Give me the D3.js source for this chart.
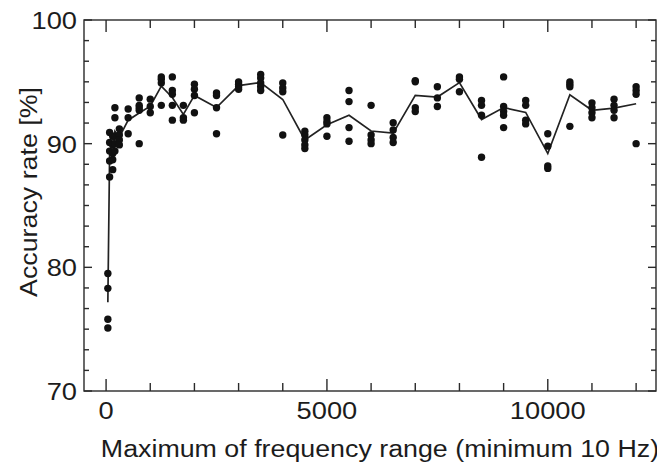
<!DOCTYPE html>
<html>
<head>
<meta charset="utf-8">
<script src="https://cdn.jsdelivr.net/npm/d3@7"></script>
<style>
  body { margin: 0; background: #fff; }
  text { font-family: "Liberation Sans", Arial, sans-serif; fill: #1c1c1c; }
</style>
</head>
<body>
<div id="root"></div>
<script>
// maximum of frequency range (Hz), one group of runs for each
const freqs = [40, 80, 150, 200, 300, 500, 750, 1000, 1250, 1500, 1750, 2000, 2500,
  3000, 3500, 4000, 4500, 5000, 5500, 6000, 6500, 7000, 7500, 8000, 8500, 9000,
  9500, 10000, 10500, 11000, 11500, 12000];

// accuracy rate (%) of each run, same order as freqs
const accuracy = [
  [79.5, 78.3, 75.8, 75.1],
  [90.9, 90.1, 89.4, 88.6, 87.3],
  [90.6, 89.9, 89.2, 88.7, 87.9],
  [92.9, 92.1, 90.6, 90.0, 89.4],
  [91.2, 90.7, 90.3, 89.9],
  [92.8, 92.1, 90.8],
  [93.7, 93.1, 92.9, 92.7, 90.0],
  [93.6, 93.0, 92.5],
  [95.4, 95.2, 94.9, 93.1],
  [95.4, 94.3, 94.0, 93.1, 91.9],
  [93.1, 92.1, 91.9],
  [94.8, 94.4, 93.9, 92.5],
  [94.1, 93.9, 92.9, 90.8],
  [95.0, 94.8, 94.6, 94.4],
  [95.6, 95.3, 94.9, 94.6, 94.3],
  [94.9, 94.5, 94.2, 90.7],
  [91.0, 90.7, 90.3, 89.9, 89.6],
  [92.1, 91.8, 91.6, 90.6],
  [94.3, 93.4, 91.3, 90.2],
  [93.1, 90.7, 90.3, 90.0],
  [91.7, 91.1, 90.5, 90.1],
  [95.1, 95.0, 92.9, 92.6],
  [94.6, 93.7, 93.0],
  [95.4, 95.2, 94.2],
  [93.5, 93.1, 92.3, 88.9],
  [95.4, 93.0, 92.6, 92.3, 91.3],
  [93.5, 93.1, 91.9, 91.6],
  [90.8, 89.8, 88.2, 88.0],
  [95.0, 94.8, 94.6, 91.4],
  [93.3, 92.9, 92.5, 92.1],
  [93.6, 93.1, 92.7, 92.1],
  [94.6, 94.3, 94.0, 90.0]
];

const xTicks = [0, 5000, 10000];
const xMinorTicks = d3.range(0, 12001, 1000);
const yTicks = [70, 80, 90, 100];
const yMinorTicks = d3.range(0, 19).map((i) => 70 + (i * 10) / 6);

const xTitle = "Maximum of frequency range (minimum 10 Hz)";
const yTitle = "Accuracy rate [%]";

const width = 657;
const height = 464;
const margin = { left: 84, right: 1, top: 20, bottom: 73 };

const xScale = d3
  .scaleLinear()
  .domain([-500, 12450])
  .range([margin.left, width - margin.right]);

const yScale = d3
  .scaleLinear()
  .domain([70, 100])
  .range([height - margin.bottom, margin.top]);

const svg = d3
  .select("#root")
  .append("svg")
  .attr("width", width)
  .attr("height", height);

// the font in the picture runs wider than Helvetica, so stretch each label a bit
const stretch = (sel, k) =>
  sel.each(function () {
    const w = this.getComputedTextLength();
    d3.select(this)
      .attr("textLength", w * k)
      .attr("lengthAdjust", "spacingAndGlyphs");
  });

const x0 = xScale.range()[0];
const x1 = xScale.range()[1];
const y0 = yScale.range()[0];
const y1 = yScale.range()[1];

// ticks point inwards on all four sides
const axes = svg.append("g").attr("stroke", "#2a2a2a").attr("stroke-width", 1.4);

const bigX = (d) => xTicks.includes(d);
axes
  .selectAll(".xb")
  .data(xMinorTicks)
  .enter()
  .append("line")
  .attr("x1", (d) => xScale(d))
  .attr("x2", (d) => xScale(d))
  .attr("y1", y0)
  .attr("y2", (d) => y0 - (bigX(d) ? 12 : 8));
axes
  .selectAll(".xt")
  .data(xMinorTicks)
  .enter()
  .append("line")
  .attr("x1", (d) => xScale(d))
  .attr("x2", (d) => xScale(d))
  .attr("y1", y1)
  .attr("y2", (d) => y1 + (bigX(d) ? 12 : 8));

const bigY = (d) => yTicks.some((t) => Math.abs(t - d) < 1e-6);
axes
  .selectAll(".yl")
  .data(yMinorTicks)
  .enter()
  .append("line")
  .attr("y1", (d) => yScale(d))
  .attr("y2", (d) => yScale(d))
  .attr("x1", x0)
  .attr("x2", (d) => x0 + (bigY(d) ? 8 : 5));
axes
  .selectAll(".yr")
  .data(yMinorTicks)
  .enter()
  .append("line")
  .attr("y1", (d) => yScale(d))
  .attr("y2", (d) => yScale(d))
  .attr("x1", x1)
  .attr("x2", (d) => x1 - (bigY(d) ? 8 : 5));

axes
  .append("rect")
  .attr("x", x0)
  .attr("y", y1)
  .attr("width", x1 - x0)
  .attr("height", y0 - y1)
  .attr("fill", "none");

// tick labels
svg
  .selectAll(".ylab")
  .data(yTicks)
  .enter()
  .append("text")
  .attr("x", x0 - 7)
  .attr("y", (d) => yScale(d) + 9)
  .attr("text-anchor", "end")
  .attr("font-size", 23.5)
  .text((d) => d)
  .call(stretch, 1.16);

svg
  .selectAll(".xlab")
  .data(xTicks)
  .enter()
  .append("text")
  .attr("x", (d) => xScale(d))
  .attr("y", y0 + 28)
  .attr("text-anchor", "middle")
  .attr("font-size", 23.5)
  .text((d) => d)
  .call(stretch, 1.16);

// axis titles
svg
  .append("text")
  .attr("x", 380)
  .attr("y", 457)
  .attr("text-anchor", "middle")
  .attr("font-size", 23.5)
  .text(xTitle)
  .call(stretch, 1.14);

svg
  .append("text")
  .attr("transform", "translate(37, 192) rotate(-90)")
  .attr("text-anchor", "middle")
  .attr("font-size", 23.5)
  .text(yTitle)
  .call(stretch, 1.14);

// mean line over the runs
const means = freqs.map((f, i) => [f, d3.mean(accuracy[i])]);
const line = d3
  .line()
  .x((d) => xScale(d[0]))
  .y((d) => yScale(d[1]));

svg
  .append("path")
  .datum(means)
  .attr("d", line)
  .attr("fill", "none")
  .attr("stroke", "#222")
  .attr("stroke-width", 1.7);

// single runs
const runs = freqs.flatMap((f, i) => accuracy[i].map((a) => [f, a]));
svg
  .selectAll("circle")
  .data(runs)
  .enter()
  .append("circle")
  .attr("cx", (d) => xScale(d[0]))
  .attr("cy", (d) => yScale(d[1]))
  .attr("r", 3.7)
  .attr("fill", "#111");
</script>
</body>
</html>
